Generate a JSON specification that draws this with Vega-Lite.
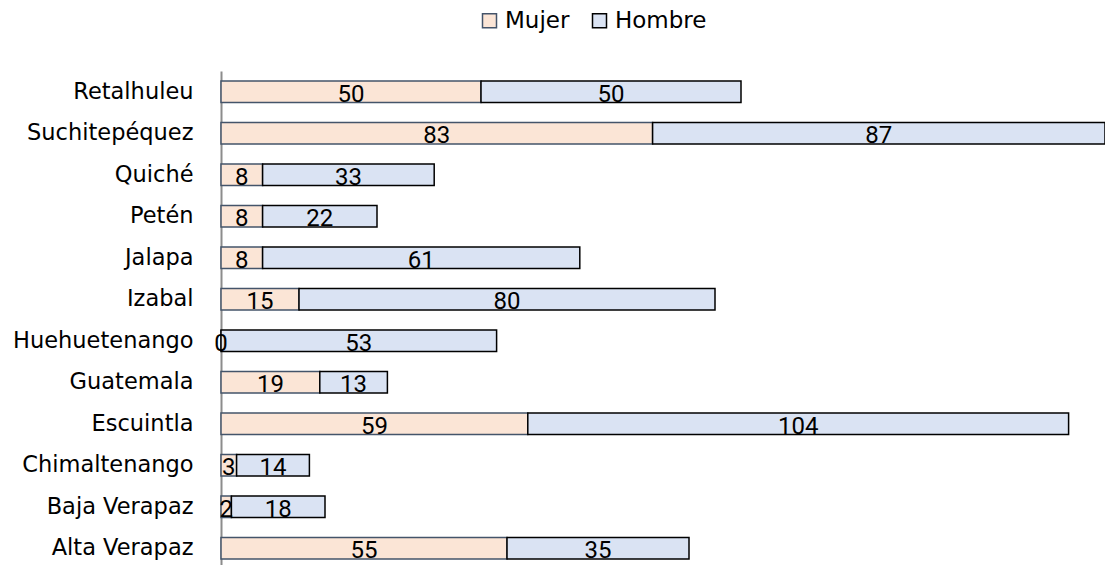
{
  "$schema": "https://vega.github.io/schema/vega-lite/v6.json",
  "autosize": {"type": "none"},
  "padding": {"left": 221, "top": 71, "right": 0, "bottom": 0},
  "width": 884,
  "height": 498,
  "background": "white",
  "config": {"view": {"stroke": null}, "font": "DejaVu Sans"},
  "data": {
    "values": [
      {"dept": "Retalhuleu", "sexo": "Mujer", "orden": 1, "valor": 50},
      {"dept": "Retalhuleu", "sexo": "Hombre", "orden": 2, "valor": 50},
      {"dept": "Suchitepéquez", "sexo": "Mujer", "orden": 1, "valor": 83},
      {"dept": "Suchitepéquez", "sexo": "Hombre", "orden": 2, "valor": 87},
      {"dept": "Quiché", "sexo": "Mujer", "orden": 1, "valor": 8},
      {"dept": "Quiché", "sexo": "Hombre", "orden": 2, "valor": 33},
      {"dept": "Petén", "sexo": "Mujer", "orden": 1, "valor": 8},
      {"dept": "Petén", "sexo": "Hombre", "orden": 2, "valor": 22},
      {"dept": "Jalapa", "sexo": "Mujer", "orden": 1, "valor": 8},
      {"dept": "Jalapa", "sexo": "Hombre", "orden": 2, "valor": 61},
      {"dept": "Izabal", "sexo": "Mujer", "orden": 1, "valor": 15},
      {"dept": "Izabal", "sexo": "Hombre", "orden": 2, "valor": 80},
      {"dept": "Huehuetenango", "sexo": "Mujer", "orden": 1, "valor": 0},
      {"dept": "Huehuetenango", "sexo": "Hombre", "orden": 2, "valor": 53},
      {"dept": "Guatemala", "sexo": "Mujer", "orden": 1, "valor": 19},
      {"dept": "Guatemala", "sexo": "Hombre", "orden": 2, "valor": 13},
      {"dept": "Escuintla", "sexo": "Mujer", "orden": 1, "valor": 59},
      {"dept": "Escuintla", "sexo": "Hombre", "orden": 2, "valor": 104},
      {"dept": "Chimaltenango", "sexo": "Mujer", "orden": 1, "valor": 3},
      {"dept": "Chimaltenango", "sexo": "Hombre", "orden": 2, "valor": 14},
      {"dept": "Baja Verapaz", "sexo": "Mujer", "orden": 1, "valor": 2},
      {"dept": "Baja Verapaz", "sexo": "Hombre", "orden": 2, "valor": 18},
      {"dept": "Alta Verapaz", "sexo": "Mujer", "orden": 1, "valor": 55},
      {"dept": "Alta Verapaz", "sexo": "Hombre", "orden": 2, "valor": 35}
    ]
  },
  "transform": [
    {"stack": "valor", "groupby": ["dept"], "sort": [{"field": "orden", "order": "ascending"}], "as": ["x0", "x1"]},
    {"calculate": "(datum.x0 + datum.x1) / 2", "as": "xmid"}
  ],
  "encoding": {
    "y": {
      "field": "dept",
      "type": "nominal",
      "sort": ["Retalhuleu", "Suchitepéquez", "Quiché", "Petén", "Jalapa", "Izabal", "Huehuetenango", "Guatemala", "Escuintla", "Chimaltenango", "Baja Verapaz", "Alta Verapaz"],
      "scale": {"paddingInner": 0.48, "paddingOuter": 0.24},
      "axis": {
        "title": null,
        "ticks": false,
        "grid": false,
        "domain": true,
        "domainColor": "#8c8c8c",
        "domainWidth": 2,
        "labelFont": "DejaVu Sans",
        "labelFontSize": 22.5,
        "labelColor": "#000000",
        "labelPadding": 28,
        "labelLimit": 400
      }
    }
  },
  "layer": [
    {
      "mark": {"type": "bar", "strokeWidth": 1.5},
      "encoding": {
        "x": {"field": "x0", "type": "quantitative", "scale": {"domain": [0, 170], "nice": false, "zero": true}, "axis": null},
        "x2": {"field": "x1"},
        "fill": {
          "field": "sexo",
          "type": "nominal",
          "scale": {"domain": ["Mujer", "Hombre"], "range": ["#FBE5D6", "#DAE3F3"]},
          "legend": {
            "title": null,
            "orient": "none",
            "direction": "horizontal",
            "legendX": 257,
            "legendY": -62,
            "symbolType": "square",
            "symbolSize": 196,
            "symbolStrokeWidth": 1.5,
            "labelFont": "DejaVu Sans",
            "labelFontSize": 23,
            "labelColor": "#000000",
            "labelOffset": 4,
            "columnPadding": 18,
            "padding": 0
          }
        },
        "stroke": {
          "field": "sexo",
          "type": "nominal",
          "scale": {"domain": ["Mujer", "Hombre"], "range": ["#44546A", "#000000"]},
          "legend": {
            "title": null,
            "orient": "none",
            "direction": "horizontal",
            "legendX": 257,
            "legendY": -62,
            "symbolType": "square",
            "symbolSize": 196,
            "symbolStrokeWidth": 1.5,
            "labelFont": "DejaVu Sans",
            "labelFontSize": 23,
            "labelColor": "#000000",
            "labelOffset": 4,
            "columnPadding": 18,
            "padding": 0
          }
        }
      }
    },
    {
      "mark": {"type": "text", "font": "Roboto", "fontSize": 24, "color": "#000000", "baseline": "middle", "dy": 3},
      "encoding": {
        "x": {"field": "xmid", "type": "quantitative", "scale": {"domain": [0, 170], "nice": false, "zero": true}},
        "text": {"field": "valor", "type": "quantitative"}
      }
    }
  ]
}
